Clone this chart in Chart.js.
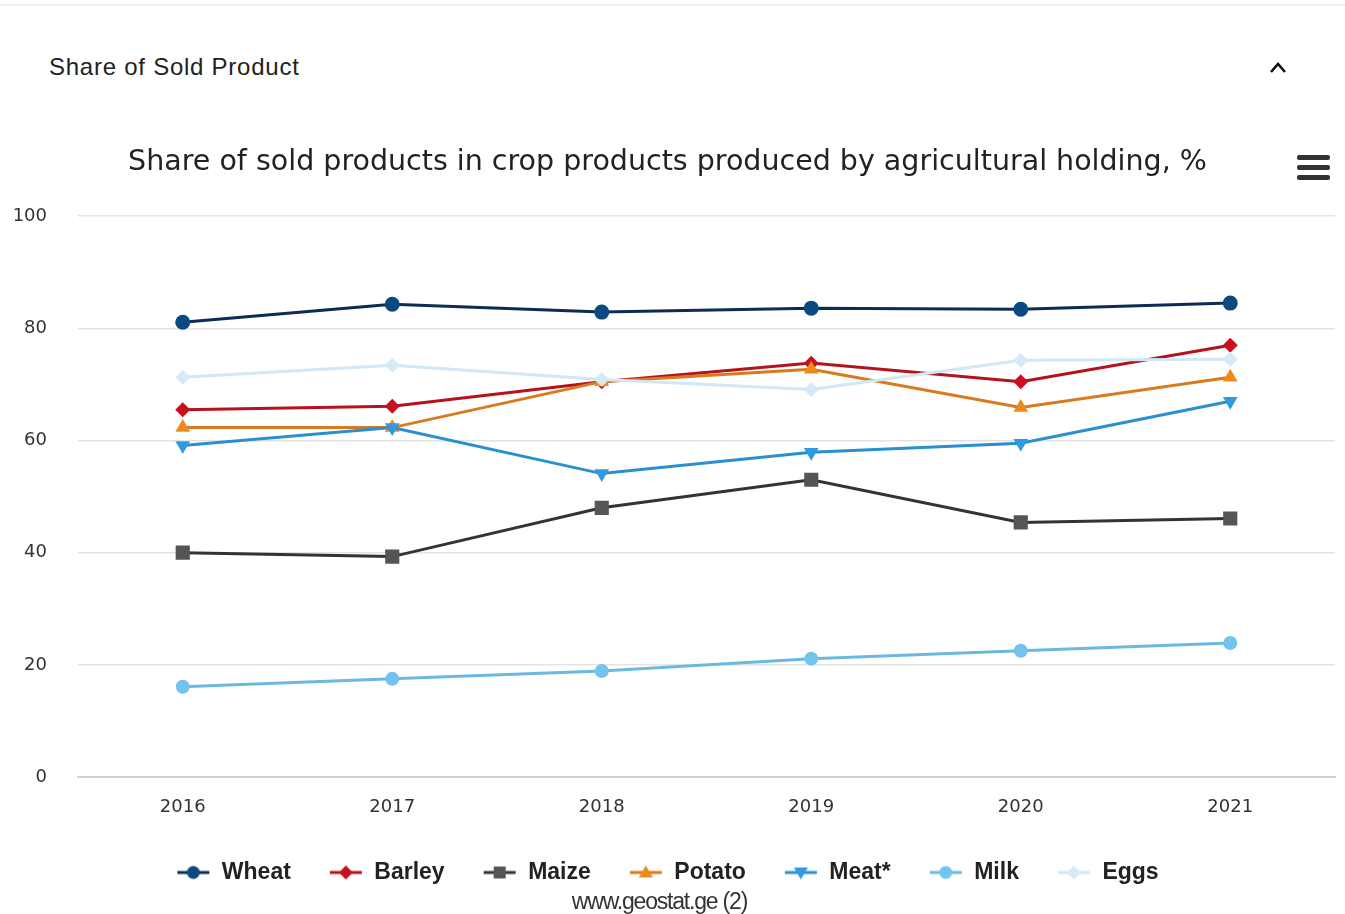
<!DOCTYPE html>
<html>
<head>
<meta charset="utf-8">
<script src="https://cdn.jsdelivr.net/npm/chart.js@4.4.1/dist/chart.umd.min.js"></script>
<style>
  body { margin:0; background:#fff; width:1345px; height:914px; overflow:hidden; position:relative; font-family:"Liberation Sans", Arial, sans-serif; }
  #topline { position:absolute; left:0; top:4px; width:1345px; height:2px; background:#f1f1f1; }
  #head { position:absolute; left:49px; top:53px; font-size:24px; color:#222; letter-spacing:0.75px; }
  #caret { position:absolute; left:1268px; top:58px; width:20px; height:20px; }
  #menu { position:absolute; left:1297px; top:155px; width:33px; }
  #menu div { height:5px; background:#333; border-radius:2px; margin-bottom:5px; }
  #src { position:absolute; left:0; width:1319px; top:888px; text-align:center; font-family:"Liberation Sans Narrow", "Liberation Sans", sans-serif; font-size:23px; color:#333; letter-spacing:-1.2px; }
  #c { position:absolute; left:0; top:120px; }
</style>
</head>
<body>
<div id="topline"></div>
<div id="head">Share of Sold Product</div>
<svg id="caret" viewBox="0 0 20 20"><path d="M3 14 L10 6 L17 14" fill="none" stroke="#111" stroke-width="2.6"/></svg>
<div id="menu"><div></div><div></div><div></div></div>
<canvas id="c" width="1345" height="794"></canvas>
<div id="src">www.geostat.ge (2)</div>
<script>
// data
years = ["2016", "2017", "2018", "2019", "2020", "2021"]
wheat = [81.1, 84.3, 82.9, 83.6, 83.4, 84.5]
barley = [65.5, 66.1, 70.5, 73.8, 70.5, 77.0]
maize = [40.0, 39.3, 48.0, 53.0, 45.4, 46.1]
potato = [62.3, 62.3, 70.5, 72.7, 65.9, 71.3]
meat = [59.1, 62.3, 54.1, 57.9, 59.5, 67.0]
milk = [16.1, 17.5, 18.9, 21.1, 22.5, 23.9]
eggs = [71.3, 73.4, 70.9, 69.1, 74.3, 74.5]
yTicks = [0, 20, 40, 60, 80, 100]

// name, values, line colour, marker colour, marker style, rotation, radius
var series = [
  ["Wheat", wheat, "#0d2c54", "#0b4a80", "circle", 0, 7.5],
  ["Barley", barley, "#b5121b", "#c8101e", "rectRot", 0, 7.5],
  ["Maize", maize, "#333333", "#555558", "rect", 0, 10],
  ["Potato", potato, "#d97a1e", "#ee8a1c", "triangle", 0, 8.5],
  ["Meat*", meat, "#2a8fd0", "#2f9ae0", "triangle", 180, 8.5],
  ["Milk", milk, "#6bb9e0", "#74c3ee", "circle", 0, 7],
  ["Eggs", eggs, "#d2e6f3", "#d6eaf6", "rectRot", 0, 7.5]
]

// small line+marker picture for the legend
function legendIcon(s) {
  var cv = document.createElement("canvas")
  cv.width = 34; cv.height = 18
  var g = cv.getContext("2d")
  g.strokeStyle = s[2]; g.lineWidth = 3
  g.beginPath(); g.moveTo(1, 9); g.lineTo(33, 9); g.stroke()
  g.fillStyle = s[3]
  var r = 6.5
  g.beginPath()
  if (s[4] == "circle") g.arc(17, 9, r, 0, Math.PI * 2)
  else if (s[4] == "rect") g.rect(11, 3, 12, 12)
  else if (s[4] == "rectRot") { g.moveTo(17, 2); g.lineTo(24, 9); g.lineTo(17, 16); g.lineTo(10, 9) }
  else if (s[5] == 180) { g.moveTo(10, 4); g.lineTo(24, 4); g.lineTo(17, 16) }
  else { g.moveTo(17, 2); g.lineTo(24, 14); g.lineTo(10, 14) }
  g.closePath(); g.fill()
  return cv
}

var datasets = series.map(function(s) {
  return {
    label: s[0],
    data: s[1],
    borderColor: s[2],
    backgroundColor: s[3],
    borderWidth: 3,
    pointStyle: s[4],
    rotation: s[5],
    pointRadius: s[6],
    pointBackgroundColor: s[3],
    pointBorderColor: s[3],
    pointBorderWidth: 0,
    tension: 0,
    icon: legendIcon(s)
  }
})
// draw the first series last so it sits on top like the original
datasets.reverse()

ctx = document.getElementById("c").getContext("2d")
var chart = new Chart(ctx, {
  type: "line",
  data: { labels: years, datasets: datasets },
  options: {
    responsive: false,
    animation: false,
    layout: { padding: { left: 0, right: 10, top: 0, bottom: 20 } },
    plugins: {
      tooltip: { enabled: false },
      title: {
        display: true,
        text: "Share of sold products in crop products produced by agricultural holding, %",
        color: "#222",
        font: { family: "'DejaVu Sans', sans-serif", size: 28.5, weight: "normal" },
        padding: { top: 25, bottom: 37 }
      },
      legend: {
        position: "bottom",
        reverse: true,
        labels: {
          usePointStyle: true,
          pointStyleWidth: 34,
          padding: 38,
          color: "#222",
          font: { family: "'Liberation Sans', Arial, sans-serif", size: 23, weight: "bold" },
          generateLabels: function(ch) {
            return ch.data.datasets.map(function(d, i) {
              return { text: d.label, pointStyle: d.icon, fontColor: "#222", lineWidth: 0, datasetIndex: i, hidden: false }
            })
          }
        }
      }
    },
    scales: {
      x: {
        offset: true,
        afterFit: function(scale) { scale.height = 46 },
        grid: { display: false, drawTicks: false },
        border: { display: true, color: "#ccd3df", width: 2 },
        ticks: { color: "#333", padding: 20, font: { family: "'DejaVu Sans', sans-serif", size: 18 } }
      },
      y: {
        min: 0, max: 100,
        afterFit: function(scale) { scale.width = 78 },
        afterBuildTicks: function(scale) { scale.ticks = yTicks.map(function(v) { return { value: v } }) },
        grid: { color: "#e3e3e3", lineWidth: 1.5, drawTicks: false },
        border: { display: false },
        ticks: { color: "#333", padding: 31, font: { family: "'DejaVu Sans', sans-serif", size: 18 } }
      }
    }
  }
})
</script>
</body>
</html>
